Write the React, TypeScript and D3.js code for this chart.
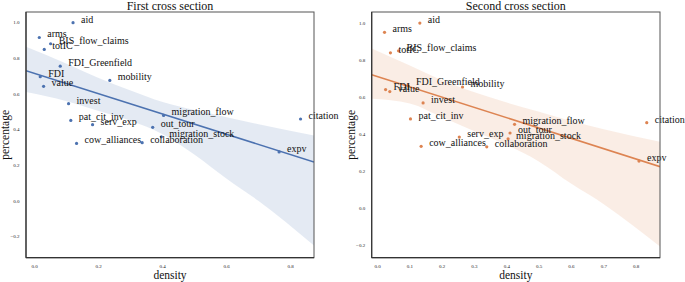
import React from 'react';
import * as d3 from 'd3';

const names = ['aid', 'arms', 'BIS_flow_claims', 'totIC', 'FDI_Greenfield', 'FDI', 'mobility', 'value', 'invest',
  'migration_flow', 'citation', 'pat_cit_inv', 'serv_exp', 'out_tour', 'migration_stock', 'cow_alliances', 'collaboration', 'expv'];

const density1 = [0.12, 0.0145, 0.05, 0.03, 0.08, 0.0175, 0.235, 0.028, 0.106, 0.403, 0.831, 0.113, 0.181, 0.369, 0.396, 0.131, 0.336, 0.764];
const percentage1 = [1.0, 0.917, 0.882, 0.85, 0.756, 0.697, 0.676, 0.643, 0.546, 0.48, 0.46, 0.452, 0.428, 0.413, 0.36, 0.323, 0.327, 0.275];

const density2 = [0.131, 0.0217, 0.065, 0.04, 0.094, 0.025, 0.263, 0.038, 0.141, 0.424, 0.833, 0.102, 0.253, 0.41, 0.404, 0.135, 0.338, 0.809];
const percentage2 = [1.0, 0.95, 0.85, 0.839, 0.664, 0.64, 0.654, 0.629, 0.568, 0.452, 0.461, 0.481, 0.383, 0.405, 0.374, 0.333, 0.33, 0.253];

// confidence band edges
const bandX1 = [-0.027, 0.1, 0.2, 0.3, 0.4, 0.5, 0.6, 0.7, 0.873];
const bandLow1 = [0.611, 0.56, 0.505, 0.45, 0.375, 0.26, 0.125, 0.0, -0.25];
const bandHigh1 = [0.865, 0.77, 0.69, 0.62, 0.555, 0.51, 0.47, 0.43, 0.368];
const bandX2 = [-0.018, 0.1, 0.2, 0.3, 0.4, 0.5, 0.6, 0.7, 0.874];
const bandLow2 = [0.59, 0.565, 0.49, 0.415, 0.34, 0.25, 0.13, 0.02, -0.21];
const bandHigh2 = [0.863, 0.77, 0.69, 0.625, 0.57, 0.52, 0.47, 0.425, 0.358];

const xTicks1 = [0, 0.2, 0.4, 0.6, 0.8];
const xTicks2 = [0, 0.1, 0.2, 0.3, 0.4, 0.5, 0.6, 0.7, 0.8];
const yTicks = [-0.2, 0, 0.2, 0.4, 0.6, 0.8, 1.0];

const titles = ['First cross section', 'Second cross section'];
const FONT = '"Liberation Serif", "DejaVu Serif", serif';

type PanelProps = {
  title: string;
  xs: number[];
  ys: number[];
  bx: number[];
  blo: number[];
  bhi: number[];
  xTicks: number[];
  xDomain: [number, number];
  yDomain: [number, number];
  left: number;
  right: number;
  color: string;
  id: string;
};

function Panel(p: PanelProps) {
  const top = 12, bottom = 257.7;
  const x = d3.scaleLinear().domain(p.xDomain).range([p.left, p.right]);
  const y = d3.scaleLinear().domain(p.yDomain).range([bottom, top]);
  const mx = d3.mean(p.xs)!, my = d3.mean(p.ys)!;
  const sxy = d3.sum(p.xs, (v, i) => (v - mx) * (p.ys[i] - my));
  const sxx = d3.sum(p.xs, v => (v - mx) * (v - mx));
  const slope = sxy / sxx;
  const icpt = my - slope * mx;
  const band = p.bx.map((v, i) => ({ x: v, lo: p.blo[i], hi: p.bhi[i] }));
  const area = d3.area<{ x: number; lo: number; hi: number }>()
    .x(d => x(d.x)).y0(d => y(d.lo)).y1(d => y(d.hi)).curve(d3.curveMonotoneX);
  const line = d3.line<number>().x(d => x(d)).y(d => y(icpt + slope * d));
  const fmt = d3.format('.1f');
  const cx = (p.left + p.right) / 2;
  return (
    <g>
      <defs>
        <clipPath id={p.id}>
          <rect x={p.left} y={top} width={p.right - p.left} height={bottom - top} />
        </clipPath>
      </defs>
      <g clipPath={`url(#${p.id})`}>
        <path d={area(band)!} fill={p.color} fillOpacity={0.15} />
        <path d={line(p.xDomain)!} stroke={p.color} strokeWidth={1.5} fill="none" />
        {p.xs.map((v, i) => (
          <circle key={i} cx={x(v)} cy={y(p.ys[i])} r={1.6} fill={p.color} />
        ))}
      </g>
      {p.xs.map((v, i) => (
        <text key={'t' + i} x={x(v) + 8} y={y(p.ys[i])} fontSize={10} fontFamily={FONT} fill="#111">
          {names[i]}
        </text>
      ))}
      <rect x={p.left} y={top} width={p.right - p.left} height={bottom - top} fill="none" stroke="#555" strokeWidth={1} />
      <line x1={p.left} x2={p.left} y1={top} y2={bottom} stroke="#333" strokeWidth={1.2} />
      <line x1={p.left} x2={p.right} y1={bottom} y2={bottom} stroke="#333" strokeWidth={1.2} />
      {yTicks.map(t => (
        <text key={'y' + t} x={p.left - 6.5} y={y(t) + 1.8} fontSize={5} fontFamily={FONT} textAnchor="end" fill="#222">
          {fmt(t)}
        </text>
      ))}
      {p.xTicks.map(t => (
        <text key={'x' + t} x={x(t)} y={267.5} fontSize={5} fontFamily={FONT} textAnchor="middle" fill="#222">
          {fmt(t)}
        </text>
      ))}
      <text x={cx} y={9.5} fontSize={12} fontFamily={FONT} textAnchor="middle" fill="#111">{p.title}</text>
      <text x={cx} y={278.5} fontSize={11.5} fontFamily={FONT} textAnchor="middle" fill="#111">density</text>
      <text transform={`translate(${p.left - 17},${(top + bottom) / 2}) rotate(-90)`} fontSize={11.5} fontFamily={FONT}
        textAnchor="middle" fill="#111">percentage</text>
    </g>
  );
}

export default function App() {
  return (
    <svg width={685} height={282} style={{ position: 'absolute', left: 0, top: 0, background: '#fff' }}>
      <rect width={685} height={282} fill="#fff" />
      <Panel title={titles[0]} xs={density1} ys={percentage1} bx={bandX1} blo={bandLow1} bhi={bandHigh1}
        xTicks={xTicks1} xDomain={[-0.027, 0.873]} yDomain={[-0.318, 1.06]} left={26} right={314}
        color="#4c72b0" id="clipA" />
      <Panel title={titles[1]} xs={density2} ys={percentage2} bx={bandX2} blo={bandLow2} bhi={bandHigh2}
        xTicks={xTicks2} xDomain={[-0.018, 0.874]} yDomain={[-0.27, 1.06]} left={371.7} right={660}
        color="#dd8452" id="clipB" />
    </svg>
  );
}
